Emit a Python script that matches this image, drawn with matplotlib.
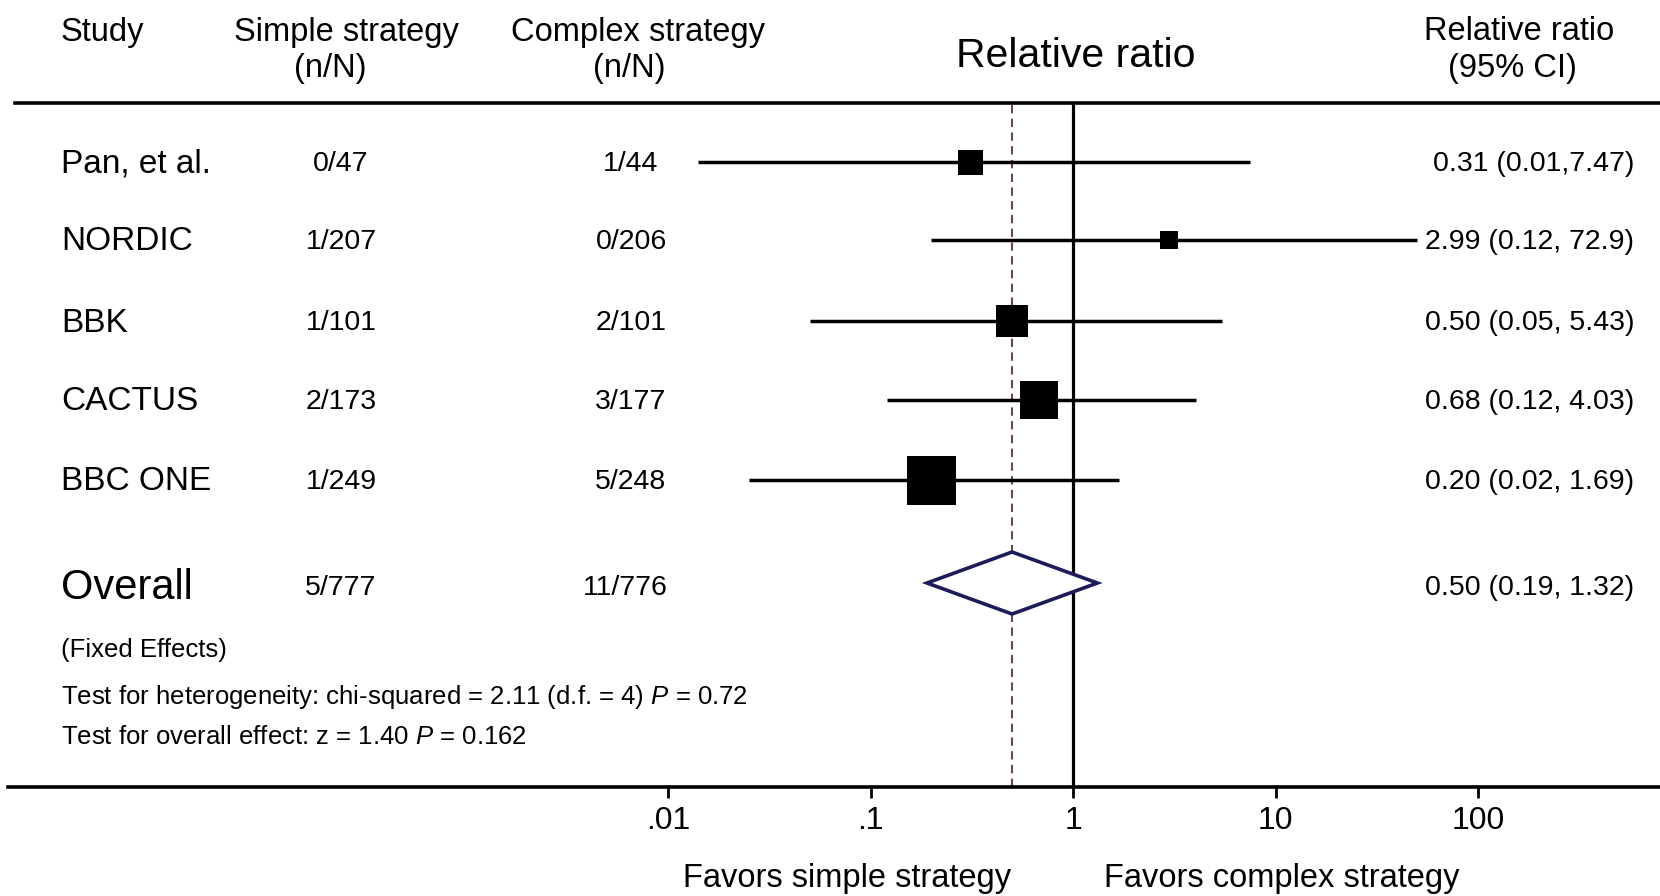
"""
Forest plot: simple vs complex strategy, relative ratio (95% CI)
"""

import numpy as np
import matplotlib
matplotlib.use('Agg')
import matplotlib.pyplot as plt
from matplotlib.patches import Polygon

plt.rcParams['font.family'] = ['Liberation Sans', 'DejaVu Sans']
plt.rcParams['mathtext.fontset'] = 'custom'
plt.rcParams['mathtext.rm'] = 'Liberation Sans'
plt.rcParams['mathtext.it'] = 'Liberation Sans:italic'

# 数据
studies = ['Pan, et al.', 'NORDIC', 'BBK', 'CACTUS', 'BBC ONE']
simple_n = ['0/47', '1/207', '1/101', '2/173', '1/249']
complex_n = ['1/44', '0/206', '2/101', '3/177', '5/248']
rr = [0.31, 2.99, 0.50, 0.68, 0.20]
ci_lo = [0.014, 0.20, 0.05, 0.12, 0.025]     # 图中实际画出的区间
ci_hi = [7.47, 50.0, 5.43, 4.03, 1.69]
rr_text = ['0.31 (0.01,7.47)', '2.99 (0.12, 72.9)', '0.50 (0.05, 5.43)',
           '0.68 (0.12, 4.03)', '0.20 (0.02, 1.69)']
box_px = [25, 18, 32, 38, 49]                # 方块边长(像素), 反映权重

overall_simple = '5/777'
overall_complex = '11/776'
overall_rr = 0.50
overall_lo = 0.19
overall_hi = 1.32
overall_text = '0.50 (0.19, 1.32)'

tick_vals = [0.01, 0.1, 1, 10, 100]
tick_labels = ['.01', '.1', '1', '10', '100']

# 布局 (像素坐标, 图像 1660x896)
W, H = 1660, 896
row_y = [162, 240, 321, 400, 480]
overall_y = 583
axis_top, axis_bot = 103, 787
x_one, decade = 1073, 202.5

fig = plt.figure(figsize=(W / 100, H / 100), dpi=100)

# 背景坐标系: 文字与表头
bg = fig.add_axes([0, 0, 1, 1])
bg.set_xlim(0, W)
bg.set_ylim(H, 0)
bg.axis('off')

# 森林图坐标系 (对数x轴)
left_px = 8
fa = fig.add_axes([left_px / W, (H - axis_bot) / H, 1 - left_px / W, (axis_bot - axis_top) / H])
fa.set_xscale('log')
fa.set_xlim(10 ** ((left_px - x_one) / decade), 10 ** ((W - x_one) / decade))
fa.set_ylim(axis_bot, axis_top)
fa.patch.set_alpha(0)
for s in ['top', 'left', 'right']:
    fa.spines[s].set_visible(False)
fa.spines['bottom'].set_linewidth(2.6)
fa.set_yticks([])
fa.set_xticks(tick_vals)
fa.set_xticklabels(tick_labels, fontsize=23)
fa.minorticks_off()
fa.tick_params(axis='x', length=8, width=2, pad=6)

# 参考线
fa.axvline(1, color='black', lw=2.3)
fa.axvline(overall_rr, color='#6e4650', lw=1.5, linestyle=(0, (4, 2.6)))

# 各研究的置信区间与方块
for i in range(len(studies)):
    fa.plot([ci_lo[i], ci_hi[i]], [row_y[i], row_y[i]], color='black', lw=2.5,
            solid_capstyle='butt', zorder=3)
    fa.plot(rr[i], row_y[i], marker='s', color='black', markersize=box_px[i] * 0.72,
            markeredgewidth=0, zorder=4)

# 合并效应菱形
half_h = 31
diamond = Polygon([(overall_lo, overall_y), (overall_rr, overall_y - half_h),
                   (overall_hi, overall_y), (overall_rr, overall_y + half_h)],
                  closed=True, facecolor='white', edgecolor='#1c1c5a', lw=2.6, zorder=5)
fa.add_patch(diamond)

# 表头
bg.plot([15, W], [axis_top, axis_top], color='black', lw=2.6)
bg.text(61, 32, 'Study', fontsize=23.5, ha='left', va='center')
bg.text(346, 32, 'Simple strategy', fontsize=23.5, ha='center', va='center')
bg.text(330, 68, '(n/N)', fontsize=23.5, ha='center', va='center')
bg.text(638, 32, 'Complex strategy', fontsize=23.5, ha='center', va='center')
bg.text(629, 68, '(n/N)', fontsize=23.5, ha='center', va='center')
bg.text(1076, 56, 'Relative ratio', fontsize=29.5, ha='center', va='center')
bg.text(1519, 32, 'Relative ratio', fontsize=23.5, ha='center', va='center')
bg.text(1512, 68, '(95% CI)', fontsize=23.5, ha='center', va='center')

# 每行文字
for i in range(len(studies)):
    bg.text(61, row_y[i] + 2, studies[i], fontsize=24, ha='left', va='center')
    bg.text(341, row_y[i] + 2, simple_n[i], fontsize=20.5, ha='center', va='center')
    bg.text(631, row_y[i] + 2, complex_n[i], fontsize=20.5, ha='center', va='center')
    bg.text(1634, row_y[i] + 2, rr_text[i], fontsize=20.5, ha='right', va='center',
            bbox=dict(facecolor='white', edgecolor='none', pad=0.5))

bg.text(61, overall_y + 5, 'Overall', fontsize=30, ha='left', va='center')
bg.text(341, overall_y + 5, overall_simple, fontsize=20.5, ha='center', va='center')
bg.text(625, overall_y + 5, overall_complex, fontsize=20.5, ha='center', va='center')
bg.text(1634, overall_y + 5, overall_text, fontsize=20.5, ha='right', va='center')

# 脚注
bg.text(61, 650, '(Fixed Effects)', fontsize=18.5, ha='left', va='center')
bg.text(61, 697, 'Test for heterogeneity: chi-squared = 2.11 (d.f. = 4) $P$ = 0.72',
        fontsize=18.5, ha='left', va='center')
bg.text(61, 737, 'Test for overall effect: z = 1.40 $P$ = 0.162',
        fontsize=18.5, ha='left', va='center')

# 底部方向说明
bg.text(847, 879, 'Favors simple strategy', fontsize=23.5, ha='center', va='center')
bg.text(1282, 879, 'Favors complex strategy', fontsize=23.5, ha='center', va='center')

fig.savefig('out.png', dpi=100)
